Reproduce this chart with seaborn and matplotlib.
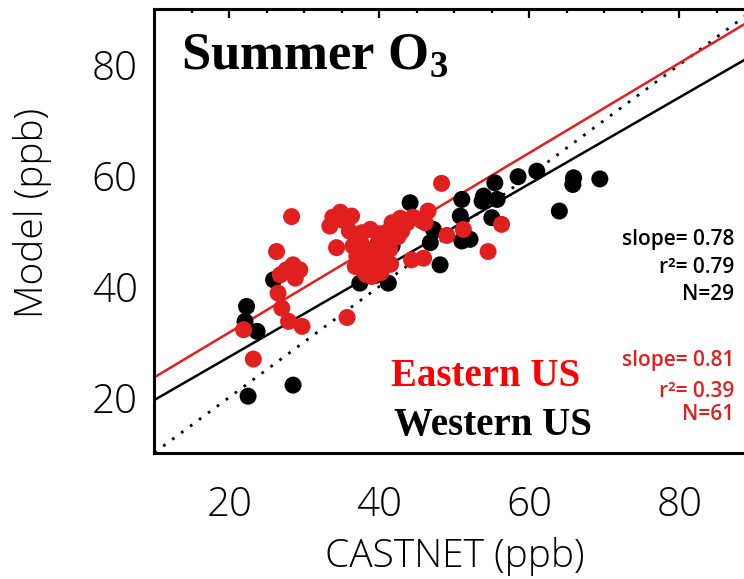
import pandas as pd
import seaborn as sns
import matplotlib.pyplot as plt

# CASTNET vs model summer O3 (ppb)
west_x = [22.5, 28.5, 22.3, 22.1, 23.7, 25.9, 37.4, 41.2, 44.1, 47.2,
          46.8, 48.1, 50.8, 51.0, 51.0, 52.1, 53.9, 53.7, 55.0, 55.7,
          55.4, 58.5, 61.0, 65.9, 65.8, 69.4, 64.0, 41.7, 39.5]
west_y = [20.2, 22.2, 36.4, 33.7, 31.9, 41.2, 40.6, 40.6, 55.1, 50.3,
          47.9, 43.9, 52.7, 55.7, 48.2, 48.5, 56.3, 55.4, 52.4, 55.7,
          58.7, 59.8, 60.8, 59.6, 58.4, 59.4, 53.6, 47.3, 42.0]

east_x = [48.3, 28.3, 34.8, 36.3, 33.4, 34.3, 36.5, 26.3, 37.7, 38.8,
          39.9, 41.7, 43.7, 46.5, 45.7, 39.2, 40.5, 41.4, 36.8, 38.8,
          39.0, 40.5, 44.3, 45.9, 49.0, 51.2, 42.3, 56.3, 54.5, 28.5,
          29.4, 27.6, 28.8, 26.8, 26.5, 27.0, 27.9, 29.7, 21.9, 23.2,
          35.7, 41.5, 37.0, 43.0, 46.1, 40.0, 38.0, 37.5, 40.5, 39.5,
          35.0, 44.5, 42.5, 36.0, 40.2, 37.8, 41.0, 42.8, 33.8, 38.2,
          39.6]
east_y = [58.6, 52.6, 53.4, 52.7, 50.9, 47.0, 47.3, 46.3, 49.7, 50.3,
          48.2, 51.5, 51.5, 53.6, 51.8, 46.3, 45.2, 46.7, 43.6, 43.0,
          41.8, 43.6, 44.8, 45.1, 49.2, 50.3, 50.9, 51.2, 46.3, 43.9,
          43.0, 43.0, 41.5, 42.1, 38.8, 36.1, 33.7, 32.8, 32.2, 26.9,
          34.4, 44.0, 45.5, 50.0, 51.5, 49.5, 45.0, 48.0, 47.8, 44.5,
          52.0, 52.5, 49.0, 50.0, 42.5, 46.5, 49.8, 52.3, 52.5, 42.2,
          47.2]

regions = ['Western US', 'Eastern US']
slopes = [0.78, 0.81]
intercepts = [11.7, 15.5]
r2 = [0.79, 0.39]
counts = [29, 61]

RED = '#e21f1f'
colors = {'Western US': 'black', 'Eastern US': RED}

df = pd.DataFrame({
    'castnet': west_x + east_x,
    'model': west_y + east_y,
    'region': ['Western US'] * len(west_x) + ['Eastern US'] * len(east_x),
})

sns.set_style('white')
plt.rcParams['font.family'] = ['Open Sans', 'DejaVu Sans']
plt.rcParams['font.weight'] = 'light'
for key in ['text.color', 'axes.labelcolor', 'xtick.color', 'ytick.color']:
    plt.rcParams[key] = 'black'
plt.rcParams['mathtext.fontset'] = 'custom'
plt.rcParams['mathtext.rm'] = 'Liberation Serif:bold'
plt.rcParams['mathtext.bf'] = 'Liberation Serif:bold'

fig = plt.figure(figsize=(7.44, 5.79), dpi=100)
ax = fig.add_axes([0.2074, 0.2181, 0.8065, 0.7658])

# 1:1 line and the two fits
ax.axline((10, 10), slope=1, color='black', lw=2, ls=(0, (1, 3)))
for reg, m, b in zip(regions, slopes, intercepts):
    ax.axline((0, b), slope=m, color=colors[reg], lw=1.8)

sns.scatterplot(data=df, x='castnet', y='model', hue='region',
                palette=colors, s=150, edgecolor='none', legend=False,
                ax=ax, zorder=3)

ax.set_xlim(10, 90)
ax.set_ylim(10, 90)
ax.set_xticks([20, 40, 60, 80])
ax.set_yticks([20, 40, 60, 80])
ax.set_xticks(range(15, 90, 5), minor=True)
ax.set_yticks(range(15, 90, 5), minor=True)
ax.tick_params(which='both', direction='in', top=True, right=True,
               width=1.6, labelsize=29)
ax.tick_params(axis='x', which='major', length=6.5, pad=23)
ax.tick_params(axis='x', which='minor', length=3)
ax.tick_params(axis='y', which='both', length=6, pad=12)
for s in ax.spines.values():
    s.set_linewidth(2.2)
    s.set_color('black')

ax.set_xlabel('CASTNET (ppb)', fontsize=28, fontweight='light')
ax.set_ylabel('Model (ppb)', fontsize=28, fontweight='light')
ax.xaxis.set_label_coords(0.5, -0.19)
ax.yaxis.set_label_coords(-0.17, 0.54)

ax.text(13.6, 79.2, r'Summer O$_\mathbf{3}$', family='Liberation Serif',
        weight='bold', fontsize=38, va='baseline')
ax.text(41.5, 22.0, 'Eastern US', family='Liberation Serif', weight='bold',
        fontsize=28, color='red', va='baseline')
ax.text(41.9, 13.2, 'Western US', family='Liberation Serif', weight='bold',
        fontsize=28, color='black', va='baseline')

stat_y = {'Western US': [47.4, 42.4, 37.6], 'Eastern US': [25.6, 20.1, 15.9]}
for reg, m, r, n in zip(regions, slopes, r2, counts):
    ys = stat_y[reg]
    lines = [f'slope= {m:.2f}', f'r\u00b2= {r:.2f}', f'N={n}']
    for txt, yy in zip(lines, ys):
        ax.text(87.3, yy, txt, ha='right', va='baseline', fontsize=15,
                weight='semibold', color=colors[reg])

fig.savefig('out.png', dpi=100)
